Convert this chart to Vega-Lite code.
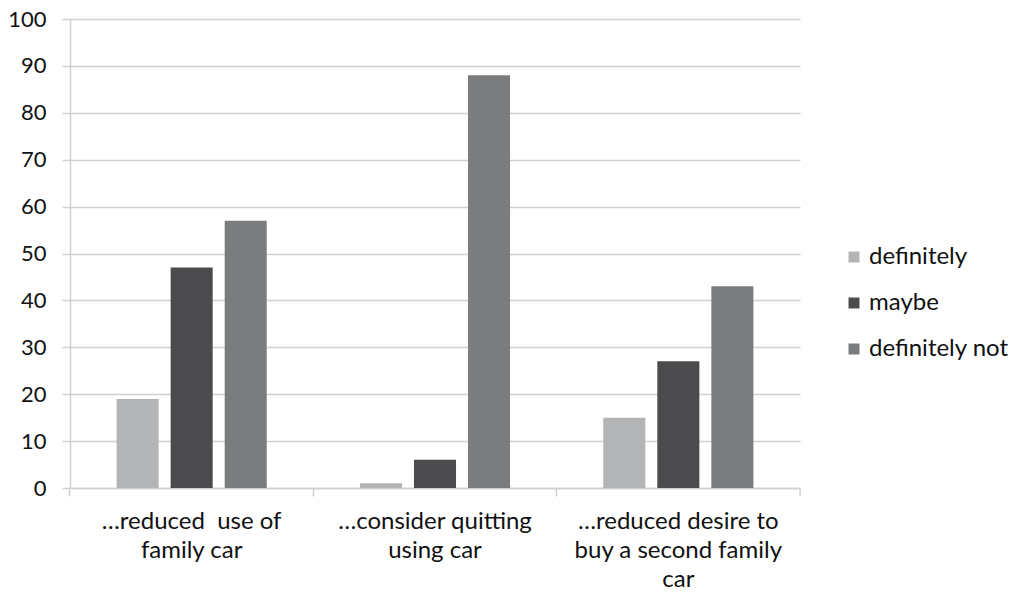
{
  "$schema": "https://vega.github.io/schema/vega-lite/v6.json",
  "width": 730,
  "height": 469,
  "autosize": {"type": "none"},
  "padding": {"left": 70, "top": 19, "right": 223, "bottom": 107},
  "background": "white",
  "config": {
    "view": {"stroke": null},
    "font": "Lato",
    "axis": {"labelFont": "Lato", "labelFontSize": 22, "labelColor": "#111111"},
    "legend": {"labelFont": "Lato", "labelFontSize": 24, "labelColor": "#111111"}
  },
  "data": {
    "values": [
      {"question": "…reduced  use of family car", "answer": "definitely", "percent": 19},
      {"question": "…reduced  use of family car", "answer": "maybe", "percent": 47},
      {"question": "…reduced  use of family car", "answer": "definitely not", "percent": 57},
      {"question": "…consider quitting using car", "answer": "definitely", "percent": 1},
      {"question": "…consider quitting using car", "answer": "maybe", "percent": 6},
      {"question": "…consider quitting using car", "answer": "definitely not", "percent": 88},
      {"question": "…reduced desire to buy a second family car", "answer": "definitely", "percent": 15},
      {"question": "…reduced desire to buy a second family car", "answer": "maybe", "percent": 27},
      {"question": "…reduced desire to buy a second family car", "answer": "definitely not", "percent": 43}
    ]
  },
  "layer": [
    {
      "mark": {"type": "bar"},
      "encoding": {
        "x": {
          "field": "question",
          "type": "nominal",
          "sort": null,
          "scale": {"paddingInner": 0.383, "paddingOuter": 0.1915},
          "axis": {
            "title": null,
            "labelAngle": 0,
            "bandPosition": -0.311,
            "labelFontSize": 24,
            "labelLimit": 0,
            "domainColor": "#d0d0d0",
            "domainWidth": 1.5,
            "tickColor": "#d0d0d0",
            "tickWidth": 1.5,
            "tickSize": 8,
            "labelPadding": 13,
            "labelLineHeight": 29,
            "labelBaseline": "top",
            "labelExpr": "datum.value == '…reduced  use of family car' ? ['…reduced\u00a0 use of', 'family car'] : datum.value == '…consider quitting using car' ? ['…consider quitting', 'using car'] : ['…reduced desire to', 'buy a second family', 'car']"
          }
        },
        "xOffset": {
          "field": "answer",
          "type": "nominal",
          "sort": ["definitely", "maybe", "definitely not"],
          "scale": {"paddingInner": 0.222, "paddingOuter": 0}
        },
        "y": {
          "field": "percent",
          "type": "quantitative",
          "scale": {"domain": [0, 100]},
          "axis": {
            "title": null,
            "values": [0, 10, 20, 30, 40, 50, 60, 70, 80, 90, 100],
            "grid": true,
            "gridColor": "#d0d0d0",
            "gridWidth": 1.5,
            "domainColor": "#d0d0d0",
            "domainWidth": 1.5,
            "tickColor": "#d0d0d0",
            "tickWidth": 1.5,
            "tickSize": 8,
            "labelPadding": 16
          }
        },
        "color": {
          "field": "answer",
          "type": "nominal",
          "sort": ["definitely", "maybe", "definitely not"],
          "scale": {"domain": ["definitely", "maybe", "definitely not"], "range": ["#b3b4b5", "#4b4b4d", "#7b7c7e"]},
          "legend": {
            "title": null,
            "orient": "none",
            "legendX": 772,
            "legendY": 226,
            "symbolType": "square",
            "symbolSize": 121,
            "symbolStrokeWidth": 0,
            "labelOffset": 3,
            "rowPadding": 22
          }
        }
      }
    },
    {
      "data": {"values": [{"question": "…reduced desire to buy a second family car"}]},
      "mark": {"type": "rule", "color": "#d0d0d0", "strokeWidth": 1.5},
      "encoding": {
        "x": {"field": "question", "type": "nominal", "sort": null, "bandPosition": 1.311},
        "y": {"datum": 0, "type": "quantitative"},
        "y2": {"datum": -1.7}
      }
    }
  ]
}
